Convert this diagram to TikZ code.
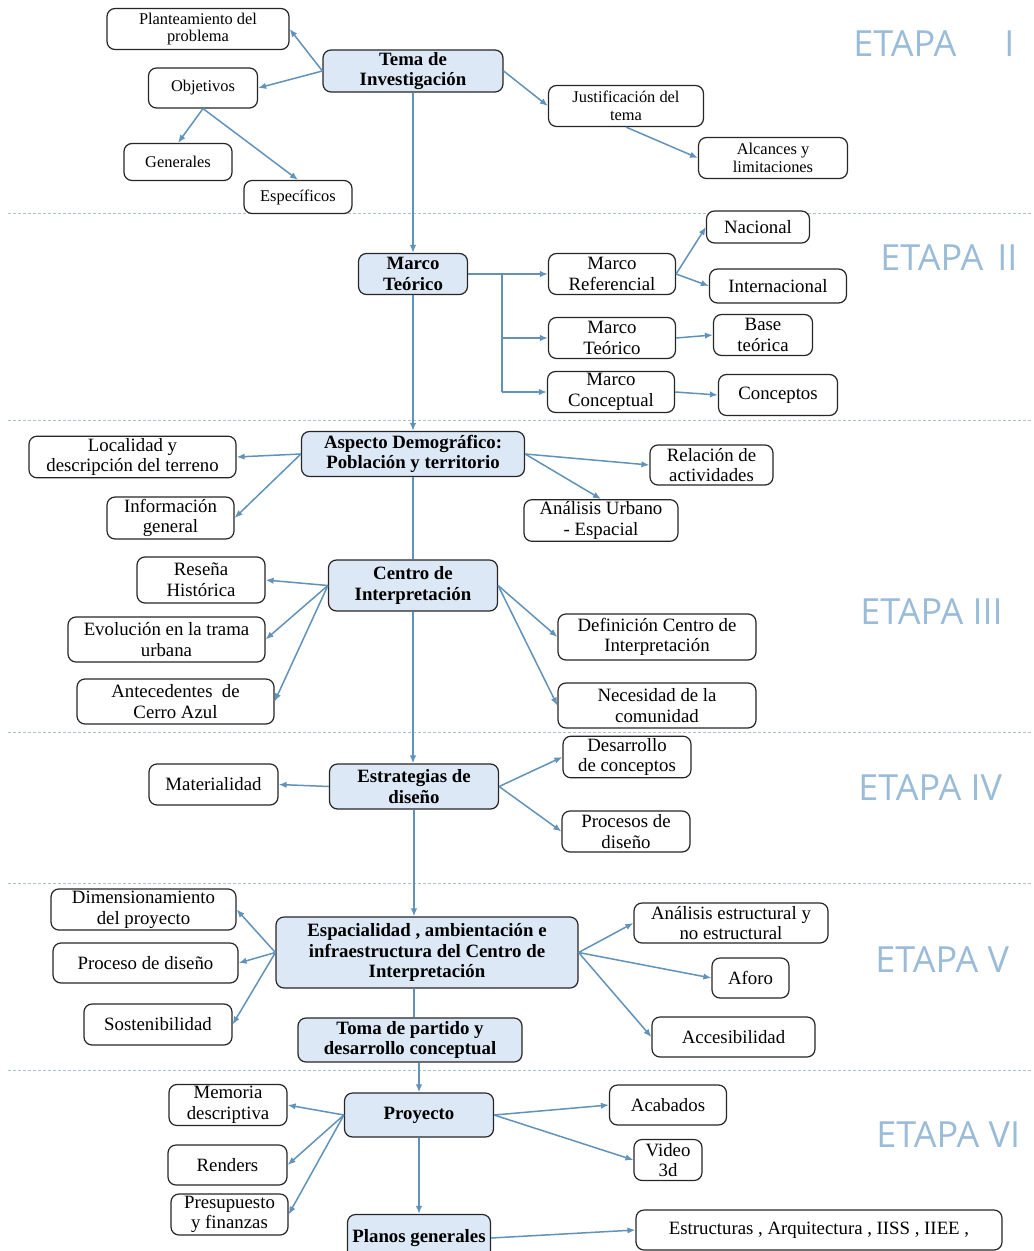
\documentclass[tikz,border=0pt]{standalone}
\usepackage{fontspec}
\setmainfont{Liberation Serif}
\newfontfamily\etapafont{Open Sans}
\usetikzlibrary{positioning,arrows.meta}

\definecolor{mainfill}{RGB}{220,232,245}
\definecolor{arrowblue}{RGB}{96,146,186}
\definecolor{etapablue}{RGB}{155,188,216}
\definecolor{sepline}{RGB}{170,192,214}

\tikzset{
    box/.style={draw=black!85, line width=0.6pt, rounded corners=4pt, fill=white, align=center, inner sep=1pt,
        font=\fontsize{9.4}{10.3}\selectfont},
    smallbox/.style={box, font=\fontsize{8.2}{8.8}\selectfont},
    mainbox/.style={box, fill=mainfill, font=\fontsize{9.4}{10.3}\selectfont\bfseries},
    wh/.style 2 args={minimum width=#1*0.5pt, minimum height=#2*0.5pt},
    link/.style={draw=arrowblue, line width=0.75pt},
    arrow/.style={link, -{Latex[length=4pt,width=3.2pt]}},
    etapa/.style={anchor=west, text=etapablue, font=\etapafont\fontsize{18}{18}\selectfont, inner sep=0pt},
    separator/.style={draw=sepline, line width=0.5pt, dash pattern=on 1.5pt off 1pt},
}

\begin{document}
\begin{tikzpicture}[x=0.5pt, y=-0.5pt]
    \useasboundingbox (0,0) rectangle (1033,1251);

    % stage separators
    \foreach \y in {214,420,732,883,1070}
        \draw[separator] (8,\y) -- (1033,\y);

    % stage labels
    \node[etapa] (etI)   at (853,44)   {ETAPA\hspace{24pt}I};
    \node[etapa] (etII)  at (880,258)  {ETAPA\hspace{7pt}II};
    \node[etapa] (etIII) at (860,612)  {ETAPA III};
    \node[etapa] (etIV)  at (858,788)  {ETAPA IV};
    \node[etapa] (etV)   at (875,960)  {ETAPA V};
    \node[etapa] (etVI)  at (876,1135) {ETAPA VI};

    % ETAPA I
    \node[mainbox, wh={180}{42}]  (tema)  at (413,71)  {Tema de\\Investigación};
    \node[smallbox, wh={182}{41}] (plant) at (198,29)  {Planteamiento del\\problema};
    \node[smallbox, wh={109}{40}] (obj)   at (203,88)  {Objetivos};
    \node[smallbox, wh={108}{37}] (gen)   at (178,162) {Generales};
    \node[smallbox, wh={108}{33}] (esp)   at (298,197) {Específicos};
    \node[smallbox, wh={155}{41}] (just)  at (626,106) {Justificación del\\tema};
    \node[smallbox, wh={149}{41}] (alc)   at (773,158) {Alcances y\\limitaciones};

    \draw[arrow] (tema.west) -- (plant.east);
    \draw[arrow] (tema.west) -- (obj.east);
    \draw[arrow] (obj.south) -- (gen.north);
    \draw[arrow] (obj.south) -- (esp.north);
    \draw[arrow] (tema.east) -- (just.west);
    \draw[arrow] (just.south) -- (alc.west);

    % ETAPA II
    \node[mainbox, wh={109}{41}] (marcot) at (413,274) {Marco\\Teórico};
    \node[box, wh={127}{41}] (mref) at (612,274) {Marco\\Referencial};
    \node[box, wh={103}{32}] (nac)  at (758,227) {Nacional};
    \node[box, wh={137}{34}] (intl) at (778,286) {Internacional};
    \node[box, wh={127}{41}] (msub) at (612,338) {Marco\\Teórico};
    \node[box, wh={99}{41}]  (base) at (763,335) {Base\\teórica};
    \node[box, wh={127}{41}] (mcon) at (611,392) {Marco\\Conceptual};
    \node[box, wh={119}{41}] (conc) at (778,395) {Conceptos};
    \coordinate (fork) at (502,274);

    \draw[arrow] (tema.south) -- (marcot.north);
    \draw[arrow] (marcot.east) -- (mref.west);
    \draw[link] (fork) -- (fork |- mcon.west);
    \draw[arrow] (fork |- msub.west) -- (msub.west);
    \draw[arrow] (fork |- mcon.west) -- (mcon.west);
    \draw[arrow] (mref.east) -- (nac.west);
    \draw[arrow] (mref.east) -- (intl.west);
    \draw[arrow] (msub.east) -- (base.west);
    \draw[arrow] (mcon.east) -- (conc.west);

    % ETAPA III
    \node[mainbox, wh={223}{45}] (asp) at (413,454) {Aspecto Demográfico:\\Población y territorio};
    \node[box, wh={207}{40}] (loc)  at (132.5,457) {Localidad y\\descripción del terreno};
    \node[box, wh={127}{40}] (inf)  at (170.5,518) {Información\\general};
    \node[box, wh={123}{40}] (rel)  at (711.5,465) {Relación de\\actividades};
    \node[box, wh={154}{41}] (anal) at (601,520.5) {Análisis Urbano\\- Espacial};
    \node[mainbox, wh={169}{51}] (cen) at (413,585.5) {Centro de\\Interpretación};
    \node[box, wh={128}{46}] (res) at (201,580)     {Reseña\\Histórica};
    \node[box, wh={197}{45}] (evo) at (166.5,639.5) {Evolución en la trama\\urbana};
    \node[box, wh={197}{45}] (ant) at (175.5,701.5) {Antecedentes\ \ de\\Cerro Azul};
    \node[box, wh={198}{46}] (def) at (657,637)     {Definición Centro de\\Interpretación};
    \node[box, wh={198}{45}] (nec) at (657,705.5)   {Necesidad de la\\comunidad};

    \draw[arrow] (marcot.south) -- (asp.north);
    \draw[arrow] (asp.west) -- (loc.east);
    \draw[arrow] (asp.west) -- (inf.east);
    \draw[arrow] (asp.east) -- (rel.west);
    \draw[arrow] (asp.east) -- (anal.north);
    \draw[link] (asp.south) -- (cen.north);
    \draw[arrow] (cen.west) -- (res.east);
    \draw[arrow] (cen.west) -- (evo.east);
    \draw[arrow] (cen.west) -- (ant.east);
    \draw[arrow] (cen.east) -- (def.west);
    \draw[arrow] (cen.east) -- (nec.west);

    % ETAPA IV
    \node[mainbox, wh={169}{45}] (est) at (414,786.5) {Estrategias de\\diseño};
    \node[box, wh={129}{41}] (mat) at (213.5,784.5) {Materialidad};
    \node[box, wh={128}{40}] (des) at (627,757)     {Desarrollo\\de conceptos};
    \node[box, wh={128}{41}] (pro) at (626,831.5)   {Procesos de\\diseño};

    \draw[arrow] (cen.south) -- (cen.south |- est.north);
    \draw[arrow] (est.west) -- (mat.east);
    \draw[arrow] (est.east) -- (des.west);
    \draw[arrow] (est.east) -- (pro.west);

    % ETAPA V
    \node[mainbox, wh={302}{71}] (spa) at (427,952.5) {Espacialidad , ambientación e\\infraestructura del Centro de\\Interpretación};
    \node[box, wh={185}{41}] (dim) at (143.5,909.5) {Dimensionamiento\\del proyecto};
    \node[box, wh={185}{40}] (prc) at (145.5,963)   {Proceso de diseño};
    \node[box, wh={148}{41}] (sos) at (158,1024.5)  {Sostenibilidad};
    \node[box, wh={194}{40}] (aes) at (731,923)     {Análisis estructural y\\no estructural};
    \node[box, wh={77}{40}]  (afo) at (750.5,978)   {Aforo};
    \node[box, wh={163}{40}] (acc) at (733.5,1037)  {Accesibilidad};
    \node[mainbox, wh={224}{44}] (toma) at (410,1040) {Toma de partido y\\desarrollo conceptual};

    \draw[arrow] (est.south) -- (est.south |- spa.north);
    \draw[arrow] (spa.west) -- (dim.east);
    \draw[arrow] (spa.west) -- (prc.east);
    \draw[arrow] (spa.west) -- (sos.east);
    \draw[arrow] (spa.east) -- (aes.west);
    \draw[arrow] (spa.east) -- (afo.west);
    \draw[arrow] (spa.east) -- (acc.west);
    \draw[link] (spa.south -| est.south) -- (toma.north -| est.south);

    % ETAPA VI
    \node[mainbox, wh={149}{44}] (proj) at (419,1115) {Proyecto};
    \node[box, wh={118}{40}] (mem) at (228,1105)    {Memoria\\descriptiva};
    \node[box, wh={119}{40}] (ren) at (227.5,1165)  {Renders};
    \node[box, wh={117}{41}] (pre) at (229.5,1214.5){Presupuesto\\y finanzas};
    \node[box, wh={117}{40}] (aca) at (668,1105)    {Acabados};
    \node[box, wh={68}{41}]  (vid) at (668,1160)    {Video\\3d};
    \node[mainbox, wh={143}{47}] (plan) at (419,1238) {Planos generales};
    \node[box, wh={366}{40}] (estr) at (819,1230)   {Estructuras , Arquitectura , IISS , IIEE ,};

    \draw[arrow] (toma.south -| proj.north) -- (proj.north);
    \draw[arrow] (proj.west) -- (mem.east);
    \draw[arrow] (proj.west) -- (ren.east);
    \draw[arrow] (proj.west) -- (pre.east);
    \draw[arrow] (proj.east) -- (aca.west);
    \draw[arrow] (proj.east) -- (vid.west);
    \draw[arrow] (proj.south) -- (plan.north);
    \draw[arrow] (plan.east) -- (estr.west);
\end{tikzpicture}
\end{document}
